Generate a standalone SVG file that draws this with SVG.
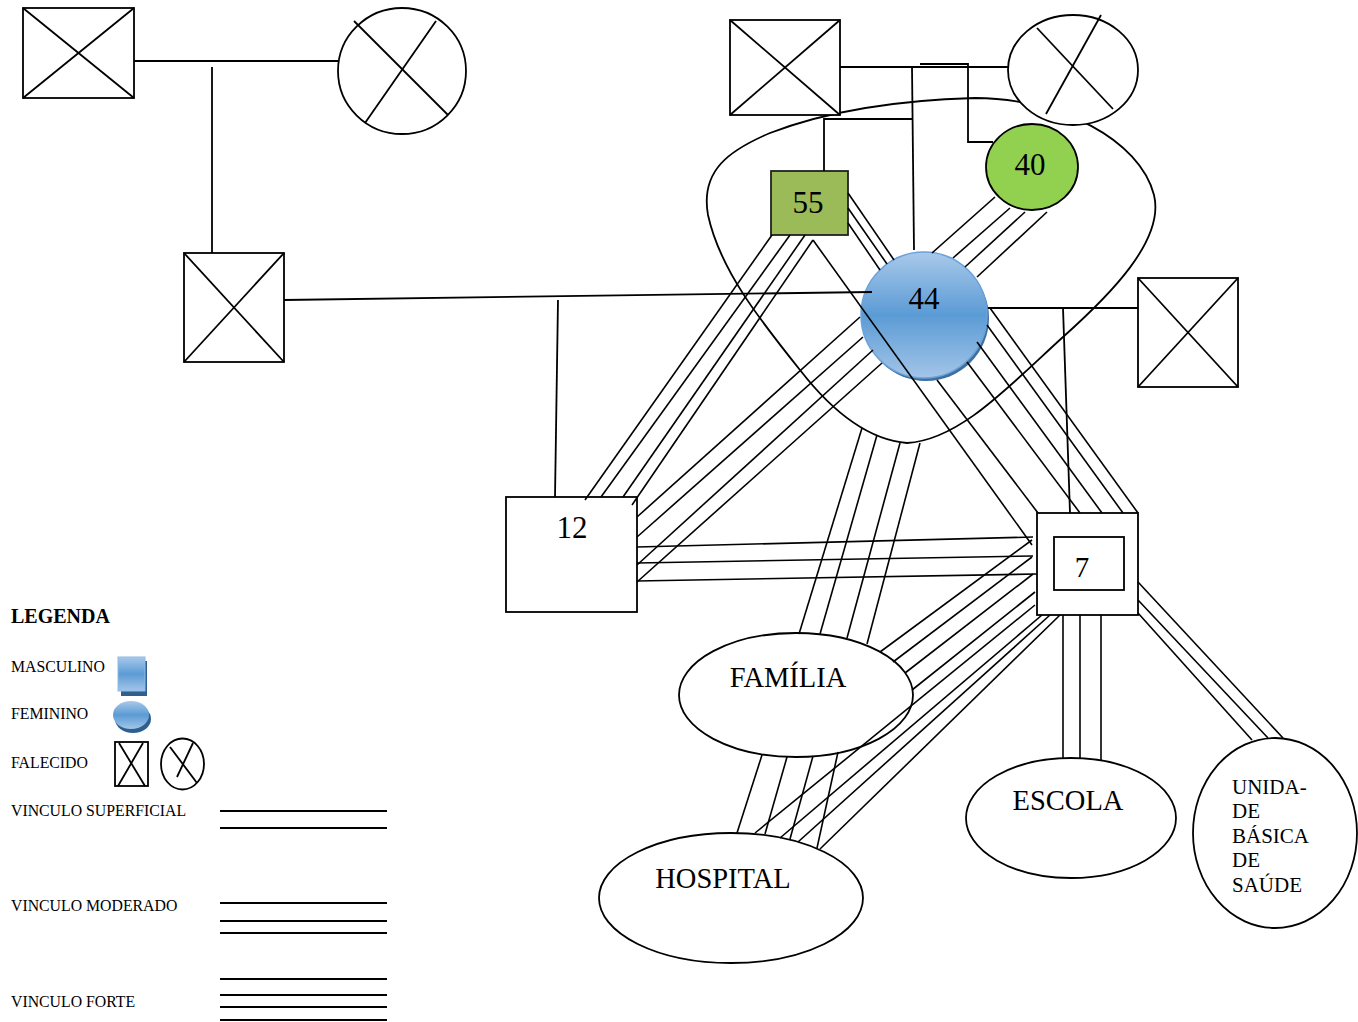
<svg xmlns="http://www.w3.org/2000/svg" width="1358" height="1022" viewBox="0 0 1358 1022">
<defs>
<linearGradient id="blue" x1="0" y1="0" x2="0" y2="1">
<stop offset="0" stop-color="#a9c9ea"/>
<stop offset="0.5" stop-color="#5b9bd5"/>
<stop offset="1" stop-color="#a3c5e8"/>
</linearGradient>
</defs>
<style>
.ln{stroke:#000;stroke-width:1.8;fill:none}
.b{stroke:#000;stroke-width:1.6;fill:none}
.sh{fill:#fff;stroke:#000;stroke-width:1.8}
.t{font-family:"Liberation Serif","Times New Roman",serif;fill:#000}
.num{font-size:31px;text-anchor:middle}
.lab{font-size:28.5px;text-anchor:middle}
.lg{font-size:15.8px}
</style>
<rect width="1358" height="1022" fill="#fff"/>

<g id="household-boundary">
<path class="ln" d="M907,443 C870,440 835,415 800,370 C760,320 720,270 708,215 C700,170 730,150 770,133 C830,110 900,100 975,98 C1060,98 1140,140 1154,195 C1165,240 1110,295 1063,337 C1010,385 960,440 907,443 Z"/>
</g>

<g id="nodes">
<g id="grandfather-paternal">
<rect class="sh" x="23" y="8" width="111" height="90"/>
<line class="ln" x1="23" y1="8" x2="134" y2="98"/><line class="ln" x1="134" y1="8" x2="23" y2="98"/>
</g>
<g id="grandmother-paternal">
<ellipse class="sh" cx="402" cy="71" rx="64" ry="63"/>
<line class="ln" x1="354" y1="21" x2="448" y2="115"/><line class="ln" x1="436" y1="21" x2="365" y2="123"/>
</g>
<g id="father">
<rect class="sh" x="184" y="253" width="100" height="109"/>
<line class="ln" x1="184" y1="253" x2="284" y2="362"/><line class="ln" x1="284" y1="253" x2="184" y2="362"/>
</g>
<g id="grandfather-maternal">
<rect class="sh" x="730" y="20" width="110" height="95"/>
<line class="ln" x1="730" y1="20" x2="840" y2="115"/><line class="ln" x1="840" y1="20" x2="730" y2="115"/>
</g>
<g id="grandmother-maternal">
<ellipse class="sh" cx="1073" cy="70" rx="65" ry="55"/>
<line class="ln" x1="1037" y1="28" x2="1113" y2="109"/><line class="ln" x1="1101" y1="15" x2="1046" y2="114"/>
</g>
<g id="n55">
<rect x="771" y="171" width="77" height="64" fill="#9bbb59" stroke="#222" stroke-width="1.8"/>
<text class="t num" x="808" y="213">55</text>
</g>
<g id="n40">
<ellipse cx="1032" cy="167" rx="46" ry="43" fill="#92d050" stroke="#000" stroke-width="1.8"/>
<text class="t num" x="1030" y="175">40</text>
</g>
<g id="n44">
<circle cx="926" cy="318" r="63" fill="#3f6f9f"/>
<circle cx="924" cy="315" r="63" fill="url(#blue)" stroke="#6aa3da" stroke-width="1.5"/>
<text class="t num" x="924" y="309">44</text>
</g>
<g id="husband">
<rect class="sh" x="1138" y="278" width="100" height="109"/>
<line class="ln" x1="1138" y1="278" x2="1238" y2="387"/><line class="ln" x1="1238" y1="278" x2="1138" y2="387"/>
</g>
<g id="n12">
<rect class="sh" x="506" y="497" width="131" height="115"/>
<text class="t num" x="572" y="538">12</text>
</g>
<g id="n7">
<rect class="sh" x="1037" y="513" width="101" height="102"/>
<rect class="sh" x="1054" y="537" width="70" height="53"/>
<text class="t num" x="1082" y="577" style="font-size:29px">7</text>
</g>
<g id="familia">
<ellipse class="sh" cx="796" cy="695" rx="117" ry="62"/>
<text class="t lab" x="788" y="687">FAMÍLIA</text>
</g>
<g id="hospital">
<ellipse class="sh" cx="731" cy="898" rx="132" ry="65"/>
<text class="t lab" x="723" y="888">HOSPITAL</text>
</g>
<g id="escola">
<ellipse class="sh" cx="1071" cy="818" rx="105" ry="60"/>
<text class="t lab" x="1068" y="810">ESCOLA</text>
</g>
<g id="ubs">
<ellipse class="sh" cx="1275" cy="833" rx="82" ry="95"/>
<text class="t" x="1232" y="794" style="font-size:21px">UNIDA-</text>
<text class="t" x="1232" y="818" style="font-size:21px">DE</text>
<text class="t" x="1232" y="843" style="font-size:21px">BÁSICA</text>
<text class="t" x="1232" y="867" style="font-size:21px">DE</text>
<text class="t" x="1232" y="892" style="font-size:21px">SAÚDE</text>
</g>
</g>

<g id="connectors">
<!-- paternal family -->
<line class="ln" x1="134" y1="61" x2="338" y2="61"/>
<line class="ln" x1="212" y1="67" x2="212" y2="253"/>
<line class="ln" x1="284" y1="300" x2="872" y2="292"/>
<line class="ln" x1="558" y1="300" x2="555" y2="497"/>
<!-- maternal family -->
<line class="ln" x1="840" y1="67" x2="1008" y2="67"/>
<polyline class="ln" points="920,64 968,64 968,142 993,142"/>
<line class="ln" x1="912" y1="67" x2="914" y2="250"/>
<polyline class="ln" points="912,119 824,119 824,171"/>
<!-- husband -->
<line class="ln" x1="988" y1="308" x2="1138" y2="308"/>
<line class="ln" x1="1063" y1="308" x2="1070" y2="513"/>
<!-- 55 - 44 -->
<line class="b" x1="848" y1="193" x2="894" y2="260"/>
<line class="b" x1="848" y1="208" x2="887" y2="264"/>
<line class="b" x1="848" y1="223" x2="880" y2="270"/>
<!-- 40 - 44 -->
<line class="b" x1="995" y1="197" x2="932" y2="253"/>
<line class="b" x1="1010" y1="208" x2="953" y2="258"/>
<line class="b" x1="1025" y1="212" x2="965" y2="267"/>
<line class="b" x1="1047" y1="212" x2="977" y2="277"/>
<!-- 55 - 12 -->
<line class="b" x1="772" y1="235" x2="585" y2="500"/>
<line class="b" x1="790" y1="235" x2="601" y2="497"/>
<line class="b" x1="805" y1="235" x2="623" y2="497"/>
<line class="b" x1="813" y1="240" x2="632" y2="505"/>
<!-- 55 - 7 -->
<line class="b" x1="813" y1="240" x2="1032" y2="545"/>
<!-- 44 - 12 -->
<line class="b" x1="860" y1="317" x2="637" y2="517"/>
<line class="b" x1="863" y1="337" x2="637" y2="537"/>
<line class="b" x1="873" y1="350" x2="637" y2="565"/>
<line class="b" x1="882" y1="363" x2="637" y2="582"/>
<!-- 12 - 7 -->
<line class="b" x1="637" y1="547" x2="1033" y2="537"/>
<line class="b" x1="637" y1="563" x2="1033" y2="556"/>
<line class="b" x1="637" y1="581" x2="1037" y2="574"/>
<!-- 44 - FAMILIA -->
<line class="b" x1="862" y1="428" x2="799" y2="634"/>
<line class="b" x1="877" y1="435" x2="820" y2="634"/>
<line class="b" x1="900" y1="443" x2="847" y2="638"/>
<line class="b" x1="920" y1="443" x2="867" y2="644"/>
<!-- 44 - 7 -->
<line class="b" x1="990" y1="308" x2="1138" y2="513"/>
<line class="b" x1="987" y1="325" x2="1123" y2="513"/>
<line class="b" x1="977" y1="342" x2="1102" y2="513"/>
<line class="b" x1="967" y1="362" x2="1080" y2="513"/>
<line class="b" x1="937" y1="380" x2="1038" y2="513"/>
<!-- 7 - FAMILIA -->
<line class="b" x1="1032" y1="540" x2="880" y2="652"/>
<line class="b" x1="1032" y1="557" x2="893" y2="662"/>
<line class="b" x1="1033" y1="574" x2="905" y2="673"/>
<line class="b" x1="1035" y1="592" x2="912" y2="690"/>
<!-- 7 - HOSPITAL -->
<line class="b" x1="1035" y1="605" x2="755" y2="833"/>
<line class="b" x1="1042" y1="615" x2="780" y2="838"/>
<line class="b" x1="1050" y1="615" x2="798" y2="842"/>
<line class="b" x1="1060" y1="615" x2="820" y2="849"/>
<!-- FAMILIA - HOSPITAL -->
<line class="b" x1="762" y1="755" x2="737" y2="833"/>
<line class="b" x1="787" y1="757" x2="765" y2="834"/>
<line class="b" x1="813" y1="756" x2="790" y2="839"/>
<line class="b" x1="838" y1="752" x2="817" y2="848"/>
<!-- 7 - ESCOLA -->
<line class="b" x1="1063" y1="615" x2="1063" y2="758"/>
<line class="b" x1="1080" y1="615" x2="1080" y2="758"/>
<line class="b" x1="1101" y1="615" x2="1101" y2="760"/>
<!-- 7 - UBS -->
<line class="b" x1="1138" y1="582" x2="1283" y2="738"/>
<line class="b" x1="1138" y1="600" x2="1268" y2="738"/>
<line class="b" x1="1138" y1="613" x2="1252" y2="740"/>
</g>

<g id="legend">
<text class="t" x="11" y="623" style="font-size:20px;font-weight:bold">LEGENDA</text>
<text class="t lg" x="11" y="672">MASCULINO</text>
<rect x="121" y="661" width="26" height="35" fill="#2f5f8f"/>
<rect x="118" y="657" width="27" height="34" fill="url(#blue)" stroke="#8fbbe6" stroke-width="1"/>
<text class="t lg" x="11" y="719">FEMININO</text>
<ellipse cx="133" cy="719" rx="18" ry="14" fill="#2f5f8f"/>
<ellipse cx="131" cy="715" rx="18" ry="14" fill="url(#blue)"/>
<text class="t lg" x="11" y="768">FALECIDO</text>
<rect class="sh" x="115" y="742" width="33" height="44"/>
<line class="ln" x1="119" y1="743" x2="145" y2="786"/><line class="ln" x1="143" y1="743" x2="118" y2="786"/>
<ellipse class="sh" cx="182.5" cy="764" rx="21.5" ry="25.5"/>
<line class="ln" x1="170" y1="747" x2="197" y2="783"/><line class="ln" x1="193" y1="743" x2="177" y2="777"/>
<text class="t lg" x="11" y="816">VINCULO SUPERFICIAL</text>
<line class="ln" x1="220" y1="811" x2="387" y2="811"/>
<line class="ln" x1="220" y1="828" x2="387" y2="828"/>
<text class="t lg" x="11" y="911">VINCULO MODERADO</text>
<line class="ln" x1="220" y1="903" x2="387" y2="903"/>
<line class="ln" x1="220" y1="921" x2="387" y2="921"/>
<line class="ln" x1="220" y1="933" x2="387" y2="933"/>
<text class="t lg" x="11" y="1007">VINCULO FORTE</text>
<line class="ln" x1="220" y1="979" x2="387" y2="979"/>
<line class="ln" x1="220" y1="995" x2="387" y2="995"/>
<line class="ln" x1="220" y1="1007" x2="387" y2="1007"/>
<line class="ln" x1="220" y1="1020" x2="387" y2="1020"/>
</g>
</svg>
